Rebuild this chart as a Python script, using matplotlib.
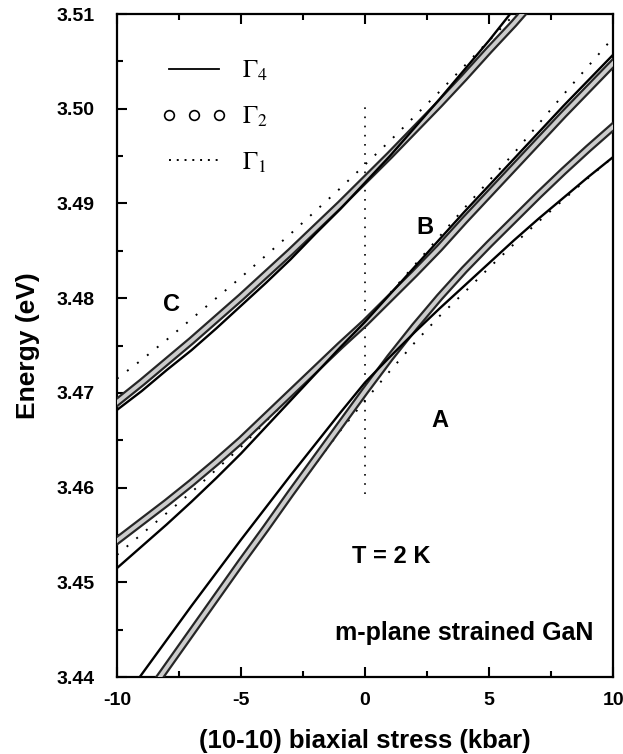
import numpy as np
import matplotlib
matplotlib.use('Agg')
from matplotlib import pyplot as plt
from matplotlib.lines import Line2D
import matplotlib.patheffects as pe

plt.rcParams['font.family'] = ['Liberation Sans', 'DejaVu Sans']
plt.rcParams['mathtext.fontset'] = 'stix'
plt.rcParams['axes.unicode_minus'] = False

# biaxial stress (kbar)
stress = np.arange(-10, 11, 1)

# branch C (top)
c_g4 = [3.4682, 3.4702, 3.4724, 3.4745, 3.4768, 3.4792, 3.4816, 3.4841, 3.4868, 3.4894, 3.4922,
        3.4950, 3.4980, 3.5010, 3.5041, 3.5072, 3.5105, 3.5138, 3.5172, 3.5206, 3.5241]
c_g2 = [3.4690, 3.4711, 3.4733, 3.4755, 3.4778, 3.4801, 3.4825, 3.4849, 3.4874, 3.4899, 3.4925,
        3.4951, 3.4978, 3.5005, 3.5033, 3.5062, 3.5090, 3.5120, 3.5150, 3.5180, 3.5210]
c_g1 = [3.4715, 3.4735, 3.4756, 3.4778, 3.4800, 3.4822, 3.4845, 3.4868, 3.4892, 3.4916, 3.4941,
        3.4966, 3.4992, 3.5018, 3.5045, 3.5072, 3.5099, 3.5127, 3.5155, 3.5184, 3.5213]

# branch B (middle)
b_g4 = [3.4515, 3.4538, 3.4561, 3.4585, 3.4610, 3.4636, 3.4664, 3.4692, 3.4720, 3.4748, 3.4775,
        3.4804, 3.4833, 3.4862, 3.4891, 3.4919, 3.4947, 3.4975, 3.5003, 3.5030, 3.5057]
b_g2 = [3.4544, 3.4564, 3.4584, 3.4605, 3.4627, 3.4650, 3.4675, 3.4700, 3.4725, 3.4750, 3.4774,
        3.4800, 3.4826, 3.4853, 3.4882, 3.4910, 3.4938, 3.4966, 3.4994, 3.5021, 3.5048]
b_g1 = [3.4529, 3.4551, 3.4573, 3.4595, 3.4619, 3.4643, 3.4670, 3.4696, 3.4723, 3.4749, 3.4775,
        3.4805, 3.4835, 3.4865, 3.4895, 3.4924, 3.4953, 3.4984, 3.5015, 3.5045, 3.5075]

# branch A (bottom)
a_g4 = [3.4367, 3.4403, 3.4439, 3.4475, 3.4510, 3.4545, 3.4579, 3.4613, 3.4646, 3.4679, 3.4711,
        3.4738, 3.4764, 3.4789, 3.4813, 3.4837, 3.4861, 3.4884, 3.4906, 3.4928, 3.4949]
a_g2 = [3.4336, 3.4373, 3.4410, 3.4447, 3.4484, 3.4521, 3.4557, 3.4594, 3.4630, 3.4666, 3.4702,
        3.4737, 3.4770, 3.4801, 3.4830, 3.4857, 3.4883, 3.4909, 3.4934, 3.4958, 3.4981]
a_g1 = [3.4336, 3.4373, 3.4409, 3.4445, 3.4481, 3.4518, 3.4554, 3.4590, 3.4625, 3.4660, 3.4692,
        3.4723, 3.4753, 3.4781, 3.4806, 3.4832, 3.4857, 3.4881, 3.4904, 3.4927, 3.4949]

zero_stress = [0, 0]
zero_line = [3.4593, 3.5002]

fig = plt.figure(figsize=(6.23, 7.54), dpi=100)
ax = fig.add_axes([0.1878, 0.1021, 0.7963, 0.8793])

tube = [pe.Stroke(linewidth=6.0, foreground='0.15'), pe.Normal()]
for g4, g2, g1 in [(c_g4, c_g2, c_g1), (b_g4, b_g2, b_g1), (a_g4, a_g2, a_g1)]:
    ax.plot(stress, g1, color='k', lw=1.4, dashes=(1, 5.5), zorder=2)
    ax.plot(stress, g2, color='0.8', lw=2.8, path_effects=tube, zorder=3)
    ax.plot(stress, g4, color='k', lw=1.7, zorder=4)

ax.plot(zero_stress, zero_line, color='k', lw=1.2, dashes=(1, 4.5))

ax.text(-7.8, 3.4793, 'C', fontsize=17, fontweight='bold', ha='center', va='center')
ax.text(2.4, 3.4875, 'B', fontsize=17, fontweight='bold', ha='center', va='center')
ax.text(3.0, 3.4671, 'A', fontsize=17, fontweight='bold', ha='center', va='center')
ax.text(1.05, 3.4527, 'T = 2 K', fontsize=17, fontweight='bold', ha='center', va='center')
ax.text(9.2, 3.4446, 'm-plane strained GaN', fontsize=18, fontweight='bold',
        ha='right', va='center')

handles = [Line2D([], [], color='k', lw=1.3),
           Line2D([], [], ls='none', marker='o', ms=7, mfc='white', mec='k', mew=1.2),
           Line2D([], [], color='k', lw=1.4, dashes=(1, 3))]
labels = [r'$\Gamma_4$', r'$\Gamma_2$', r'$\Gamma_1$']
ax.legend(handles, labels, loc='upper left', bbox_to_anchor=(0.09, 0.932), frameon=False,
          borderpad=0, borderaxespad=0, numpoints=3, handlelength=2.6, handletextpad=0.6,
          labelspacing=0.85, prop={'size': 18})

ax.set_xlim(-10, 10)
ax.set_ylim(3.44, 3.51)
ax.set_xticks([-10, -5, 0, 5, 10])
ax.set_xticks([-7.5, -2.5, 2.5, 7.5], minor=True)
ax.set_yticks(np.arange(3.44, 3.5101, 0.01))
ax.set_yticks(np.arange(3.445, 3.51, 0.01), minor=True)
ax.set_yticklabels(['%.2f' % v for v in np.arange(3.44, 3.5101, 0.01)])
ax.tick_params(which='both', direction='in', top=True, right=False, width=1.5, labelsize=14)
ax.tick_params(which='major', length=7)
ax.tick_params(which='minor', length=4)
ax.tick_params(axis='x', pad=11)
ax.tick_params(axis='y', pad=16)
for lab in ax.get_xticklabels() + ax.get_yticklabels():
    lab.set_fontweight('bold')
for s in ax.spines.values():
    s.set_linewidth(1.6)

ax.set_xlabel('(10-10) biaxial stress (kbar)', fontsize=18.5, fontweight='bold', labelpad=14)
ax.set_ylabel('Energy (eV)', fontsize=19, fontweight='bold', labelpad=12)

fig.savefig('out.png', dpi=100)
